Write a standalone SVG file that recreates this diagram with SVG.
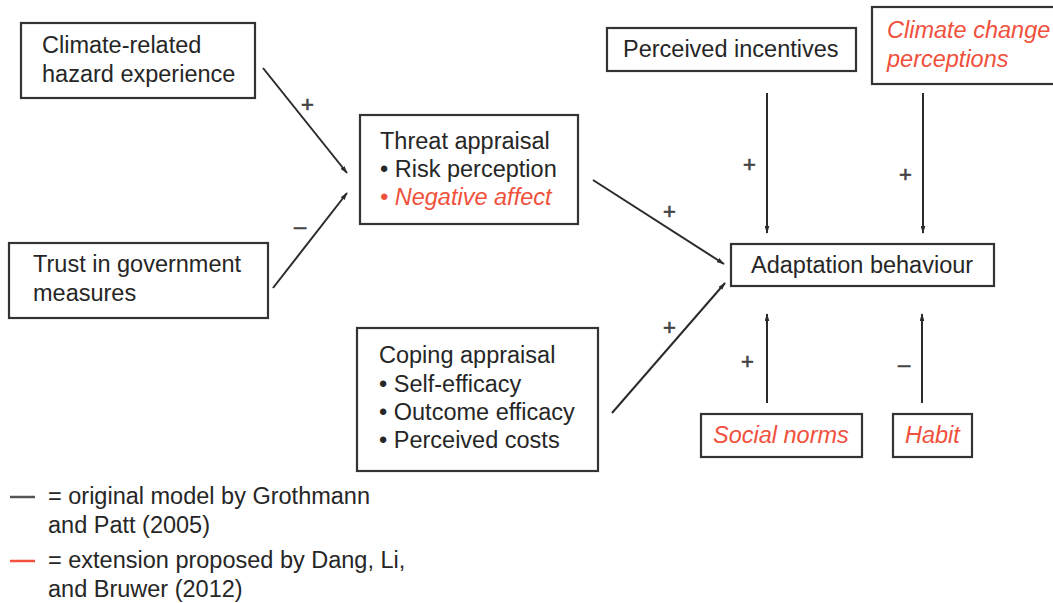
<svg xmlns="http://www.w3.org/2000/svg" width="1053" height="603" viewBox="0 0 1053 603">
<style>
text{font-family:"Liberation Sans",Arial,Helvetica,sans-serif;font-size:23.5px;fill:#262626}
.red{fill:#f0503c;font-style:italic}
.box{fill:#fff;stroke:#333;stroke-width:2.2}
.conn{stroke:#2b2b2b;stroke-width:2;fill:none;marker-end:url(#ah)}
.sign{font-size:22px;fill:#444;stroke:#444;stroke-width:0.6}
</style>
<defs>
<marker id="ah" viewBox="0 0 10 6" refX="9" refY="3" markerWidth="8" markerHeight="5" markerUnits="userSpaceOnUse" orient="auto">
<path d="M0,0 L10,3 L0,6 Z" fill="#2b2b2b"/>
</marker>
</defs>
<rect width="1053" height="603" fill="#fff"/>
<g id="connectors">
<line class="conn" x1="263" y1="68" x2="347" y2="173"/>
<line class="conn" x1="273" y1="288" x2="347" y2="193"/>
<line class="conn" x1="593" y1="180" x2="724" y2="264"/>
<line class="conn" x1="612" y1="413" x2="725" y2="283"/>
<line class="conn" x1="767" y1="93" x2="767" y2="233"/>
<line class="conn" x1="923" y1="93" x2="923" y2="233"/>
<line class="conn" x1="767" y1="403" x2="767" y2="314"/>
<line class="conn" x1="922" y1="403" x2="922" y2="314"/>
<text class="sign" x="301" y="112">+</text>
<text class="sign" x="294" y="234">–</text>
<text class="sign" x="663" y="219">+</text>
<text class="sign" x="663" y="335">+</text>
<text class="sign" x="743" y="172">+</text>
<text class="sign" x="899" y="182">+</text>
<text class="sign" x="741" y="369">+</text>
<text class="sign" x="898" y="372">–</text>
</g>
<g id="hazard">
<rect class="box" x="21" y="23" width="234" height="75"/>
<text x="42" y="53">Climate-related</text>
<text x="42" y="82">hazard experience</text>
</g>
<g id="trust">
<rect class="box" x="9" y="243" width="259" height="75"/>
<text x="33" y="272">Trust in government</text>
<text x="33" y="301">measures</text>
</g>
<g id="threat">
<rect class="box" x="360" y="115" width="218" height="109"/>
<text x="380" y="149">Threat appraisal</text>
<text x="380" y="177">• Risk perception</text>
<text x="380" y="205" class="red">• Negative affect</text>
</g>
<g id="coping">
<rect class="box" x="357" y="328" width="241" height="143"/>
<text x="379" y="363">Coping appraisal</text>
<text x="379" y="392">• Self-efficacy</text>
<text x="379" y="420">• Outcome efficacy</text>
<text x="379" y="448">• Perceived costs</text>
</g>
<g id="incentives">
<rect class="box" x="607" y="28" width="249" height="43"/>
<text x="623" y="57">Perceived incentives</text>
</g>
<g id="ccperceptions">
<rect class="box" x="872" y="7" width="200" height="77"/>
<text x="887" y="38" class="red">Climate change</text>
<text x="887" y="67" class="red">perceptions</text>
</g>
<g id="adaptation">
<rect class="box" x="731" y="244" width="263" height="42"/>
<text x="751" y="273">Adaptation behaviour</text>
</g>
<g id="socialnorms">
<rect class="box" x="701" y="414" width="161" height="43"/>
<text x="713" y="443" class="red">Social norms</text>
</g>
<g id="habit">
<rect class="box" x="893" y="414" width="79" height="43"/>
<text x="905" y="443" class="red">Habit</text>
</g>
<g id="legend">
<line x1="10" y1="497" x2="35" y2="497" stroke="#555" stroke-width="2.5"/>
<text x="48" y="504">= original model by Grothmann</text>
<text x="48" y="533">and Patt (2005)</text>
<line x1="10" y1="561" x2="35" y2="561" stroke="#f0503c" stroke-width="2.5"/>
<text x="48" y="568">= extension proposed by Dang, Li,</text>
<text x="48" y="597">and Bruwer (2012)</text>
</g>
</svg>
